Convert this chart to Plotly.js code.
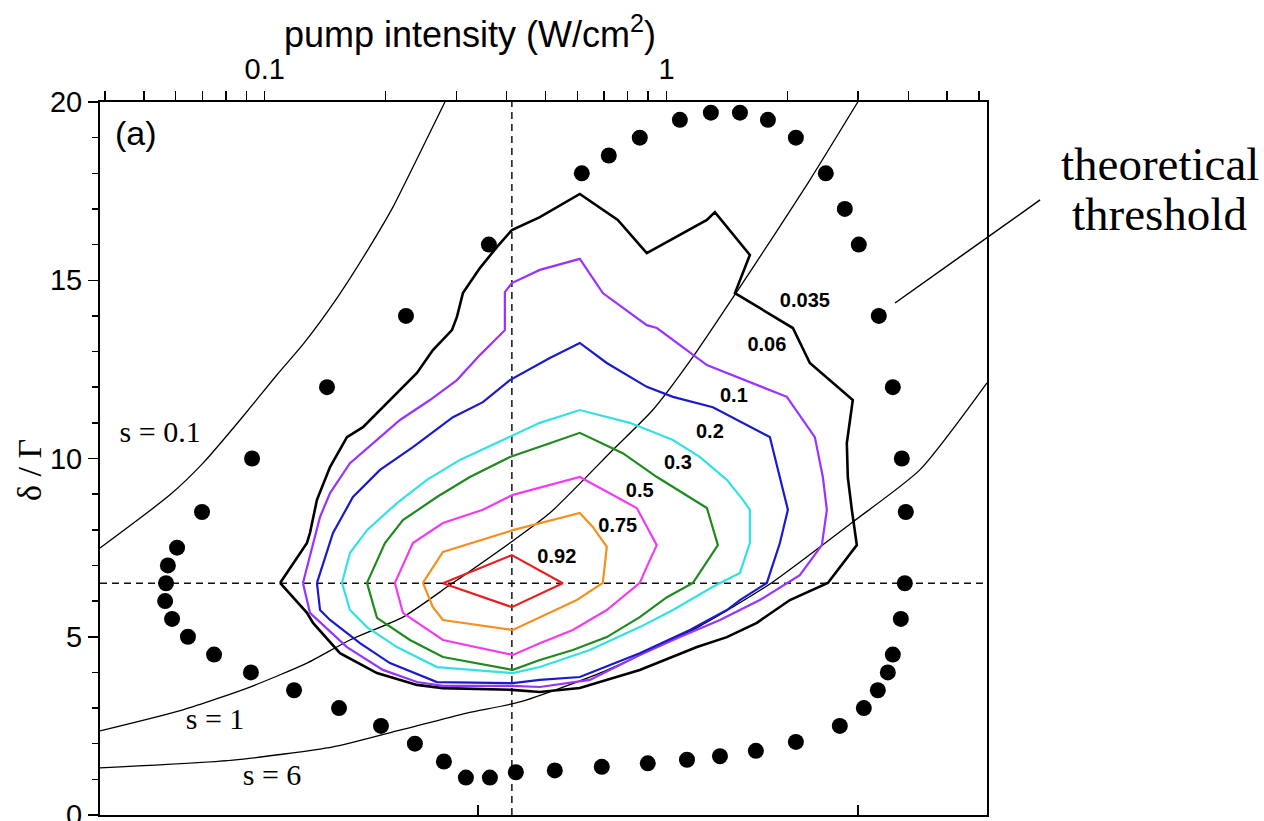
<!DOCTYPE html>
<html>
<head>
<meta charset="utf-8">
<script src="https://cdn.plot.ly/plotly-3.0.1.min.js"></script>
<style>html,body{margin:0;padding:0;background:#fff;}#chart{width:1264px;height:821px;}</style>
</head>
<body>
<div id="chart"></div>
<script>
// ---------- data (pump intensity in W/cm^2, detuning delta/Gamma) ----------
const xRangeI = [0.0389, 6.28];
const yRange = [0, 20];
const peakI = 0.4123;
const peakD = 6.5;

const topTickVals = [0.04,0.05,0.06,0.07,0.08,0.09,0.1,0.2,0.3,0.4,0.5,0.6,0.7,0.8,0.9,1,2,3,4,5,6];
const topTickText = ['','','','','','','0.1','','','','','','','','','1','','','','',''];
const leftTickVals = [0,5,10,15,20];

// threshold measurement points
const dotI = [0.3614,0.2247,0.1429,0.0930,0.0698,0.0605,0.0574,0.0568,0.0565,0.0588,0.0644,0.0748,0.0924,0.1183,0.1531,0.1947,0.2365,0.2793,0.3168,0.3635,0.4218,0.5274,0.6903,0.8985,1.125,1.359,1.670,2.100,2.701,3.100,3.359,3.557,3.660,3.832,3.921,3.943,3.854,3.660,3.378,3.012,2.780,2.493,2.100,1.789,1.524,1.290,1.080,0.8582,0.7186,0.6156];
const dotD = [16.0,14.0,12.0,10.0,8.5,7.5,7.0,6.5,6.0,5.5,5.0,4.5,4.0,3.5,3.0,2.5,2.0,1.5,1.05,1.05,1.2,1.25,1.35,1.45,1.55,1.65,1.8,2.05,2.5,3.0,3.5,4.0,4.5,5.5,6.5,8.5,10.0,12.0,14.0,16.0,17.0,18.0,19.0,19.5,19.7,19.7,19.5,19.0,18.5,18.0];

// constant-saturation curves
const s01I = [0.0389,0.0581,0.0702,0.0868,0.1073,0.1245,0.1513,0.1828,0.2085,0.2393,0.2809];
const s01D = [7.49,8.98,9.87,11.08,12.35,13.2,14.5,15.95,17.05,18.4,20.0];
const s1I = [0.0389,0.0626,0.0919,0.1274,0.1630,0.2208,0.2890,0.4076,0.5125,0.7352,0.9246,1.164,1.524,1.841,2.275,2.995];
const s1D = [2.36,2.95,3.59,4.26,4.91,5.55,6.45,7.63,8.47,10.24,11.36,12.85,14.81,16.21,17.81,20.0];
const s6I = [0.0389,0.0834,0.1479,0.2171,0.3186,0.4316,0.6825,1.212,1.809,2.910,4.273,6.28];
const s6D = [1.32,1.54,1.91,2.38,2.86,3.17,3.98,5.30,6.48,8.22,9.68,12.12];

// contour levels
const levels = ['0.035','0.06','0.1','0.2','0.3','0.5','0.75','0.92'];
const c035I = [0.1092,0.1274,0.1296,0.1349,0.1454,0.1602,0.1756,0.2050,0.2393,0.2622,0.2924,0.3009,0.3114,0.3432,0.3783,0.4123,0.4840,0.6086,0.7566,0.8933,1.261,1.320,1.613,1.481,2.064,2.275,2.910,2.812,2.828,2.894,2.978,2.522,2.029,1.679,1.414,1.191,0.8582,0.6086,0.4840,0.4123,0.2777,0.2393,0.1903,0.1539,0.1319,0.1274,0.1092];
const c035D = [6.51,7.63,7.91,8.84,9.76,10.60,10.88,11.64,12.40,13.04,13.60,13.97,14.64,15.34,15.93,16.41,16.77,17.42,16.69,15.76,16.69,16.91,15.71,14.64,13.66,12.68,11.64,10.43,9.48,8.56,7.57,6.51,6.03,5.39,4.99,4.71,4.07,3.56,3.45,3.51,3.56,3.65,3.98,4.54,5.39,5.67,6.51];
const c06I = [0.1245,0.1319,0.1373,0.1454,0.1630,0.1903,0.2171,0.2578,0.3009,0.3432,0.3961,0.3961,0.4123,0.4840,0.6086,0.6943,0.8933,0.9470,1.261,1.994,2.186,2.341,2.451,2.508,2.437,2.148,1.708,1.359,1.080,0.8582,0.6445,0.4840,0.4146,0.2777,0.2393,0.1969,0.1602,0.1373,0.1296,0.1245];
const c06D = [6.51,7.63,8.36,9.03,9.87,10.52,11.08,11.64,12.20,12.90,13.60,14.67,14.92,15.29,15.60,14.64,13.74,13.66,12.62,11.73,11.08,10.60,9.48,8.56,7.57,6.73,6.03,5.47,4.99,4.49,3.79,3.59,3.62,3.62,3.73,4.07,4.71,5.39,5.67,6.51];
const c1I = [0.1349,0.1479,0.1658,0.1936,0.2338,0.2941,0.3492,0.4076,0.5125,0.6086,0.7104,0.8933,1.038,1.305,1.809,1.916,2.006,1.916,1.778,1.524,1.414,1.144,0.8582,0.6086,0.4840,0.4146,0.2683,0.2050,0.1726,0.1454,0.1373,0.1349];
const c1D = [6.51,7.91,8.92,9.68,10.32,11.16,11.58,12.20,12.82,13.24,12.68,12.01,11.73,11.44,10.60,9.48,8.56,7.63,6.51,6.03,5.75,5.19,4.54,3.87,3.79,3.70,3.73,4.26,4.82,5.47,5.75,6.51];
const c2I = [0.1557,0.1630,0.1797,0.2134,0.2534,0.3061,0.3916,0.4840,0.6086,0.8104,1.038,1.212,1.414,1.550,1.613,1.613,1.524,1.305,1.038,0.8582,0.6445,0.4840,0.4146,0.2683,0.2134,0.1797,0.1630,0.1557];
const c2D = [6.51,7.35,7.99,8.75,9.40,9.96,10.52,11.00,11.36,11.00,10.52,10.04,9.40,8.84,8.56,7.63,6.79,6.40,5.75,5.27,4.63,4.15,3.98,4.15,4.71,5.27,5.75,6.51];
const c3I = [0.1797,0.1992,0.2208,0.2683,0.3241,0.4076,0.5125,0.6086,0.7786,0.9470,1.261,1.343,1.164,1.003,0.8582,0.7104,0.5847,0.4840,0.4146,0.2777,0.2299,0.1903,0.1797];
const c3D = [6.51,7.63,8.27,8.92,9.48,10.04,10.43,10.72,10.15,9.48,8.61,7.57,6.51,6.11,5.55,4.99,4.63,4.35,4.07,4.43,4.91,5.53,6.51];
const c5I = [0.2109,0.2338,0.2777,0.3492,0.4146,0.5125,0.6086,0.8436,0.9460,0.8933,0.8582,0.7104,0.5847,0.4840,0.4146,0.2777,0.2208,0.2109];
const c5D = [6.51,7.63,8.19,8.56,8.98,9.26,9.48,8.61,7.57,6.96,6.51,5.75,5.19,4.82,4.49,4.91,5.67,6.51];
const c75I = [0.2476,0.2777,0.4146,0.6086,0.6557,0.7104,0.6943,0.5983,0.4146,0.2777,0.2622,0.2476];
const c75D = [6.51,7.38,7.99,8.47,8.08,7.52,6.51,6.03,5.19,5.47,5.83,6.51];
const c92I = [0.2777,0.4123,0.5521,0.4123,0.2777];
const c92D = [6.5,7.29,6.5,5.83,6.5];

// contour label anchor points
const labelI = [2.211,1.778,1.472,1.283,1.068,0.858,0.7566,0.5335];
const labelD = [14.39,13.16,11.73,10.72,9.85,9.06,8.08,7.21];

// saturation labels
const sLabels = ['s = 0.1','s = 1','s = 6'];
const sLabelI = [0.0549,0.0752,0.1043];
const sLabelD = [10.66,2.61,1.04];

// ---------- styles ----------
const contourColors = ['#000000','#9933ff','#1a1acc','#33e0e6','#1f8a1f','#f03cf0','#f5901e','#e62020'];
const contourWidths = [2.6,2.2,2.2,2.2,2.2,2.2,2.2,2.2];
const contourX = [c035I,c06I,c1I,c2I,c3I,c5I,c75I,c92I];
const contourY = [c035D,c06D,c1D,c2D,c3D,c5D,c75D,c92D];
const sans = 'Liberation Sans, Arial, sans-serif';
const serif = 'Liberation Serif, Times New Roman, serif';

const traces = [];
// dashed guide lines
traces.push({x:[peakI,peakI], y:yRange, mode:'lines', line:{color:'#111',width:1.5,dash:'7px,5px'}, hoverinfo:'skip'});
traces.push({x:xRangeI, y:[peakD,peakD], mode:'lines', line:{color:'#111',width:1.5,dash:'7px,5px'}, hoverinfo:'skip'});
// s curves
[[s01I,s01D],[s1I,s1D],[s6I,s6D]].forEach(p=>{
  traces.push({x:p[0], y:p[1], mode:'lines', line:{color:'#000',width:1.3,shape:'spline',smoothing:0.6}, hoverinfo:'skip'});
});
// contours
for(let i=0;i<levels.length;i++){
  traces.push({x:contourX[i], y:contourY[i], mode:'lines', name:levels[i],
    line:{color:contourColors[i], width:contourWidths[i]}, hoverinfo:'skip'});
}
// dots
traces.push({x:dotI, y:dotD, mode:'markers', marker:{color:'#000',size:16}, hoverinfo:'skip'});
// contour labels
traces.push({x:labelI, y:labelD, mode:'text', text:levels, textposition:'middle center',
  textfont:{family:sans,size:20,color:'#000',weight:'bold'}, cliponaxis:false, hoverinfo:'skip'});
// s labels
traces.push({x:sLabelI, y:sLabelD, mode:'text', text:sLabels, textposition:'middle center',
  textfont:{family:serif,size:30,color:'#000'}, cliponaxis:false, hoverinfo:'skip'});
// bottom axis holder
traces.push({x:[null], y:[null], xaxis:'x2', mode:'markers', hoverinfo:'skip'});

const layout = {
  width:1264, height:821,
  margin:{l:100, r:277, t:102, b:6, pad:0},
  paper_bgcolor:'#fff', plot_bgcolor:'#fff',
  showlegend:false,
  xaxis:{type:'log', side:'top', anchor:'y', range:[Math.log10(xRangeI[0]), Math.log10(xRangeI[1])],
    tickmode:'array', tickvals:topTickVals, ticktext:topTickText,
    ticks:'outside', ticklen:9, tickwidth:1.5, tickcolor:'#000', ticklabeloverflow:'allow',
    showline:true, linecolor:'#000', linewidth:2, showgrid:false, zeroline:false,
    tickfont:{family:sans, size:29, color:'#000'}},
  xaxis2:{overlaying:'x', side:'bottom', anchor:'y', range:[0.005,2.339],
    tickmode:'array', tickvals:[1,2], ticks:'inside', ticklen:10, tickwidth:1.5, tickcolor:'#000',
    showticklabels:false, showline:true, linecolor:'#000', linewidth:2, showgrid:false, zeroline:false},
  yaxis:{range:yRange, tickmode:'array', tickvals:leftTickVals,
    ticks:'outside', ticklen:10, tickwidth:1.5, tickcolor:'#000', ticklabeloverflow:'allow',
    minor:{ticks:'outside', ticklen:6, dtick:1, tickwidth:1.5, tickcolor:'#000', showgrid:false},
    showline:true, mirror:true, linecolor:'#000', linewidth:2, showgrid:false, zeroline:false,
    tickfont:{family:sans, size:29, color:'#000'}},
  annotations:[
    {text:'pump intensity (W/cm<sup>2</sup>)', xref:'paper', yref:'paper', x:0.417, y:1.0975,
     xanchor:'center', yanchor:'middle', showarrow:false, font:{family:sans, size:36, color:'#000'}},
    {text:'δ / Γ', xref:'paper', yref:'paper', x:-0.0789, y:0.484, textangle:-90,
     xanchor:'center', yanchor:'middle', showarrow:false, font:{family:serif, size:34, color:'#000'}},
    {text:'(a)', xref:'paper', yref:'paper', x:0.0406, y:0.9565,
     xanchor:'center', yanchor:'middle', showarrow:false, font:{family:sans, size:34, color:'#000'}},
    {text:'theoretical', xref:'paper', yref:'paper', x:1.195, y:0.9135,
     xanchor:'center', yanchor:'middle', showarrow:false, font:{family:serif, size:47, color:'#000'}},
    {text:'threshold', xref:'paper', yref:'paper', x:1.195, y:0.8425,
     xanchor:'center', yanchor:'middle', showarrow:false, font:{family:serif, size:47, color:'#000'}}
  ],
  shapes:[
    {type:'line', xref:'paper', yref:'paper', x0:0.8963, y0:0.7181, x1:1.0598, y1:0.8626,
     line:{color:'#000', width:1.5}}
  ]
};

Plotly.newPlot('chart', traces, layout, {staticPlot:true, displayModeBar:false});
</script>
</body>
</html>
